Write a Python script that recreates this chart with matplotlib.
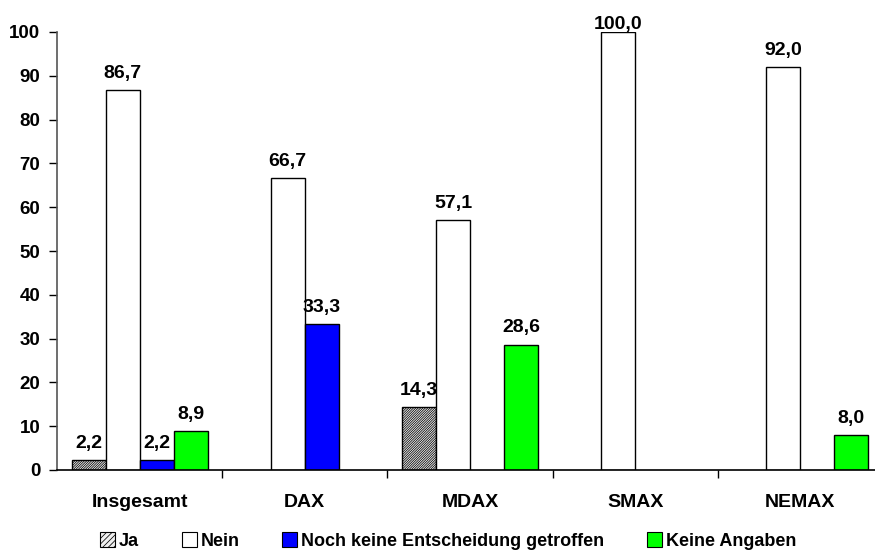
import numpy as np
import matplotlib
matplotlib.use("Agg")
import matplotlib.pyplot as plt
from matplotlib.patches import Patch

categories = ["Insgesamt", "DAX", "MDAX", "SMAX", "NEMAX"]
series_names = ["Ja", "Nein", "Noch keine Entscheidung getroffen", "Keine Angaben"]
ja = [2.2, np.nan, 14.3, np.nan, np.nan]
nein = [86.7, 66.7, 57.1, 100.0, 92.0]
noch_keine = [2.2, 33.3, np.nan, np.nan, np.nan]
keine_angaben = [8.9, np.nan, 28.6, np.nan, 8.0]
y_ticks = [0, 10, 20, 30, 40, 50, 60, 70, 80, 90, 100]

plt.rcParams["font.family"] = ["Liberation Sans", "DejaVu Sans"]
plt.rcParams["font.weight"] = "bold"
plt.rcParams["hatch.color"] = "#4a4a4a"
plt.rcParams["hatch.linewidth"] = 0.55

fig = plt.figure(figsize=(8.75, 5.52), dpi=100)
ax = fig.add_axes([57 / 875, 1 - 470 / 552, 826 / 875, 438 / 552])

styles = [
    dict(facecolor="#f0f0f0", hatch="/" * 14),
    dict(facecolor="white"),
    dict(facecolor="#0000ff"),
    dict(facecolor="#00ff00"),
]
all_series = [ja, nein, noch_keine, keine_angaben]
w = 0.2057
x = np.arange(len(categories)) + 0.5

for k, (vals, st) in enumerate(zip(all_series, styles)):
    pos = x + (k - 1.5) * w
    vals = np.array(vals, dtype=float)
    ax.bar(pos, vals, width=w, edgecolor="black", linewidth=1.0, **st)
    for px, v in zip(pos, vals):
        if np.isnan(v):
            continue
        ax.text(px, min(v + 2.8, 100.7), f"{v:.1f}".replace(".", ","),
                ha="center", va="baseline", fontsize=14, fontweight="bold")

ax.set_xlim(0, len(categories))
ax.set_ylim(0, 100)
ax.set_yticks(y_ticks)
ax.set_yticklabels([str(t) for t in y_ticks], fontsize=13.5, fontweight="bold")
ax.tick_params(axis="y", length=6, width=1, pad=6, direction="out")

ax.set_xticks(x)
ax.set_xticklabels(categories, fontsize=14, fontweight="bold")
ax.tick_params(axis="x", which="major", length=0, pad=17)
ax.set_xticks(np.arange(1, len(categories)), minor=True)
ax.tick_params(axis="x", which="minor", length=6, width=1, direction="out")

for side in ["top", "right"]:
    ax.spines[side].set_visible(False)
ax.spines["left"].set_color("#555555")
ax.spines["bottom"].set_color("black")
ax.spines["left"].set_linewidth(1.2)
ax.spines["bottom"].set_linewidth(1.2)

legend_styles = [dict(st) for st in styles]
legend_styles[0]["hatch"] = "/" * 6
handles = [Patch(edgecolor="black", linewidth=0.8, **st) for st in legend_styles]
fig.legend(handles, series_names, loc="center", ncol=4,
           bbox_to_anchor=(448 / 875, 1 - 541 / 552), frameon=False,
           prop=dict(size=13, weight="bold"), handlelength=0.85,
           handleheight=0.85, handletextpad=0.2, columnspacing=2.35,
           borderpad=0)

fig.savefig("out.png", dpi=100)
